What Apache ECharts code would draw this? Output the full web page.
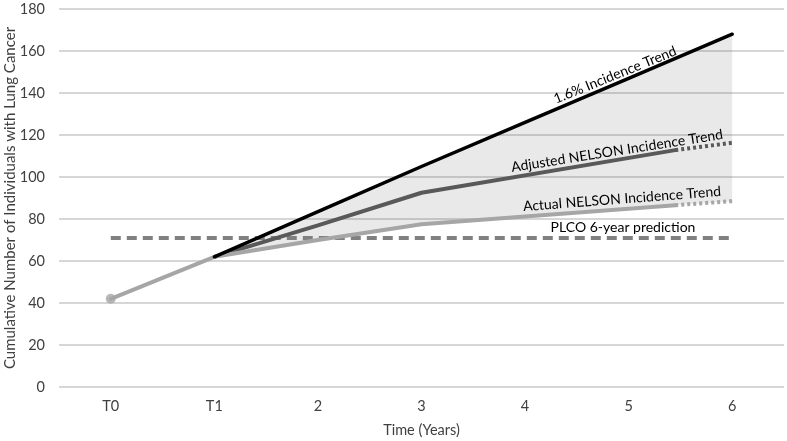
<!DOCTYPE html>
<html><head><meta charset="utf-8">
<script src="https://cdn.jsdelivr.net/npm/echarts@6/dist/echarts.min.js"></script>
<style>html,body{margin:0;padding:0;background:#fff}#c{width:787px;height:441px}</style>
</head><body><div id="c"></div>
<script>
// ---- data ----
var xTickLabels = ['T0', 'T1', '2', '3', '4', '5', '6'];
var xTickValues = [0, 1, 2, 3, 4, 5, 6];
var trend16 = [[1, 62], [2, 83.5], [3, 105], [4, 126], [5, 147], [6, 168]];
var adjustedSolid = [[1, 62], [2, 77], [3, 92.5], [5.45, 112.8]];
var adjustedDotted = [[5.45, 112.8], [6, 116.3]];
var actualSolid = [[0, 42], [1, 62], [2, 70], [3, 77.5], [5.45, 86.6]];
var actualDotted = [[5.45, 86.6], [6, 88.5]];
var plco = [[0, 71], [6, 71]];
var startPoint = [[0, 42]];

var FONT = "Lato, 'Open Sans', sans-serif";
var FS = 14.5;
var AFS = 14;
var chart = echarts.init(document.getElementById('c'), null, {renderer: 'canvas'});

var shadeUpper = trend16;
var shadeLower = actualSolid.filter(function (p) { return p[0] >= 1; }).concat(actualDotted.slice(1));

var option = {
  animation: false,
  grid: {left: 59, right: 3, top: 9, bottom: 54, containLabel: false, outerBoundsMode: 'none'},
  xAxis: {
    type: 'value', min: -0.5, max: 6.5,
    axisLine: {show: false}, axisTick: {show: false}, splitLine: {show: false},
    axisLabel: {
      customValues: xTickValues, margin: 12, color: '#404040', fontSize: FS, fontFamily: FONT,
      formatter: function (v) { return xTickLabels[Math.round(v)]; }
    },
    name: 'Time (Years)', nameLocation: 'middle', nameGap: 36, nameMoveOverlap: false,
    nameTextStyle: {color: '#404040', fontSize: FS, fontFamily: FONT}
  },
  yAxis: {
    type: 'value', min: 0, max: 180, interval: 20,
    axisLine: {show: false}, axisTick: {show: false},
    splitLine: {lineStyle: {color: '#c9c9c9', width: 1.5}},
    axisLabel: {margin: 14, color: '#404040', fontSize: FS, fontFamily: FONT},
    name: 'Cumulative Number of Individuals with Lung Cancer', nameLocation: 'middle', nameGap: 41,
    nameMoveOverlap: false,
    nameTextStyle: {color: '#404040', fontSize: 15, fontFamily: FONT}
  },
  series: [
    {
      type: 'custom', z: 1, silent: true,
      data: [0],
      renderItem: function (params, api) {
        var pts = [];
        shadeUpper.forEach(function (p) { pts.push(api.coord(p)); });
        shadeLower.slice().reverse().forEach(function (p) { pts.push(api.coord(p)); });
        return {type: 'polygon', shape: {points: pts}, style: {fill: 'rgba(0,0,0,0.085)'}};
      }
    },
    {type: 'line', data: plco, symbol: 'none', z: 2,
     lineStyle: {color: '#808080', width: 4, type: [10, 6]}},
    {type: 'line', data: adjustedSolid, symbol: 'none', z: 3,
     lineStyle: {color: '#595959', width: 4, cap: 'round'}},
    {type: 'line', data: adjustedDotted, symbol: 'none', z: 3,
     lineStyle: {color: '#595959', width: 4, type: [3, 3], cap: 'butt'}},
    {type: 'line', data: actualSolid, symbol: 'none', z: 4,
     lineStyle: {color: '#a6a6a6', width: 4, cap: 'round'}},
    {type: 'line', data: actualDotted, symbol: 'none', z: 4,
     lineStyle: {color: '#a6a6a6', width: 4, type: [3, 3], cap: 'butt'}},
    {type: 'line', data: trend16, symbol: 'none', z: 5,
     lineStyle: {color: '#000000', width: 3.5, cap: 'round'}},
    {type: 'scatter', data: startPoint, symbol: 'circle', symbolSize: 10, z: 6,
     itemStyle: {color: '#a6a6a6'}}
  ],
  graphic: [
    {type: 'text', x: 615, y: 75, rotation: 22 * Math.PI / 180, z: 10,
     style: {text: '1.6% Incidence Trend', fill: '#000', font: AFS + 'px ' + FONT, align: 'center', verticalAlign: 'middle'}},
    {type: 'text', x: 617, y: 151, rotation: 8.9 * Math.PI / 180, z: 10,
     style: {text: 'Adjusted NELSON Incidence Trend', fill: '#000', font: AFS + 'px ' + FONT, align: 'center', verticalAlign: 'middle'}},
    {type: 'text', x: 622, y: 199, rotation: 4.4 * Math.PI / 180, z: 10,
     style: {text: 'Actual NELSON Incidence Trend', fill: '#000', font: AFS + 'px ' + FONT, align: 'center', verticalAlign: 'middle'}},
    {type: 'text', x: 623, y: 227, rotation: 0, z: 10,
     style: {text: 'PLCO 6-year prediction', fill: '#000', font: AFS + 'px ' + FONT, align: 'center', verticalAlign: 'middle'}}
  ]
};
chart.setOption(option);
</script>
</body></html>
